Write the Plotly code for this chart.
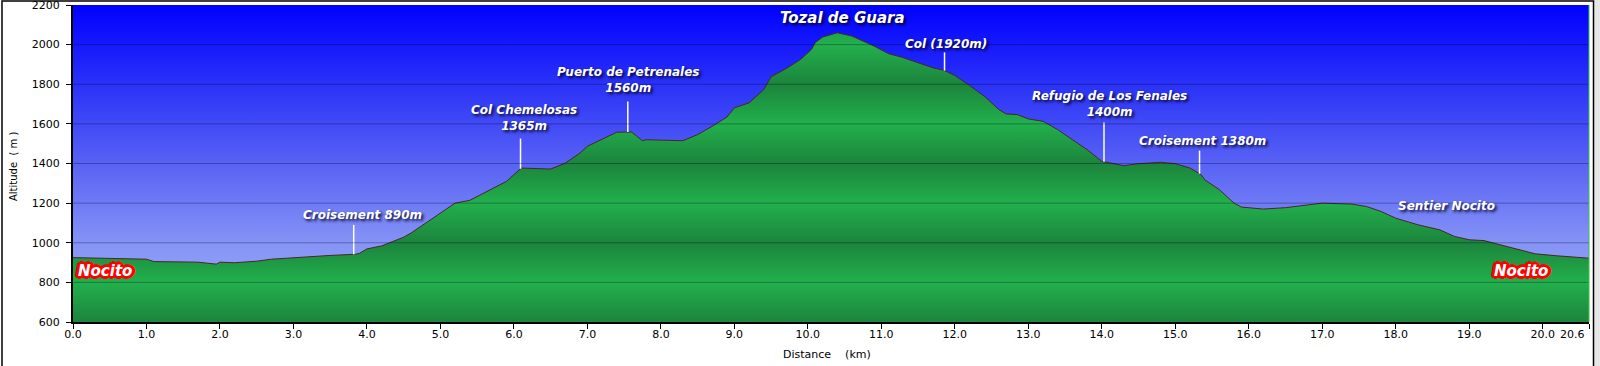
import numpy as np
import plotly.graph_objects as go

# ---------------- data ----------------
dist_km = [0.0, 0.5, 0.8, 1.0, 1.1, 1.5, 1.7, 1.95, 2.0, 2.2, 2.5, 2.7, 3.0, 3.3, 3.5,
           3.85, 3.9, 4.0, 4.2, 4.35, 4.5, 4.6, 4.8, 5.0, 5.2, 5.4, 5.5, 5.7, 5.9, 6.1,
           6.2, 6.5, 6.7, 6.9, 7.0, 7.2, 7.4, 7.6, 7.75, 7.8, 8.0, 8.3, 8.5, 8.7, 8.9,
           9.0, 9.2, 9.4, 9.5, 9.7, 9.9, 10.05, 10.1, 10.2, 10.4, 10.6, 10.9, 11.1, 11.3,
           11.5, 11.7, 11.85, 12.0, 12.2, 12.4, 12.6, 12.7, 12.85, 13.0, 13.2, 13.4, 13.6,
           13.8, 14.0, 14.3, 14.5, 14.8, 15.0, 15.2, 15.35, 15.4, 15.6, 15.8, 15.9, 16.2,
           16.5, 16.8, 17.0, 17.4, 17.6, 17.8, 18.0, 18.3, 18.6, 18.8, 19.0, 19.2, 19.5,
           19.7, 19.9, 20.2, 20.4, 20.63]
altitude_m = [925, 922, 920, 917, 905, 905, 902, 892, 902, 899, 907, 917, 925, 934, 936,
              942, 947, 969, 984, 1006, 1028, 1049, 1099, 1150, 1200, 1214, 1234, 1273, 1310, 1377,
              1375, 1372, 1402, 1453, 1487, 1524, 1558, 1559, 1515, 1520, 1519, 1515, 1546, 1588, 1635,
              1681, 1706, 1773, 1838, 1878, 1925, 1976, 2010, 2038, 2060, 2043, 1993, 1954, 1934,
              1909, 1883, 1871, 1844, 1794, 1740, 1672, 1650, 1647, 1625, 1613, 1571, 1520,
              1470, 1411, 1389, 1399, 1406, 1399, 1377, 1344, 1318, 1268, 1200, 1180, 1170,
              1177, 1190, 1200, 1195, 1183, 1158, 1124, 1091, 1065, 1032, 1015, 1011, 981,
              961, 944, 934, 930, 922]

# waypoint labels (text, label position, pointer line)
label_text = ["Croisement 890m", "Col Chemelosas<br>1365m", "Puerto de Petrenales<br>1560m",
              "Col (1920m)", "Refugio de Los Fenales<br>1400m", "Croisement 1380m",
              "Sentier Nocito"]
label_x = [3.94, 6.14, 7.55, 11.88, 14.10, 15.37, 18.69]
label_y = [1141, 1632, 1819, 2001, 1700, 1516, 1187]
pointer_x = [3.82, 6.09, 7.55, 11.86, 14.03, 15.33]
pointer_top = [1090, 1526, 1713, 1961, 1607, 1465]

summit_text = "Tozal de Guara"
summit_x, summit_y = 10.47, 2133

town_text = ["Nocito", "Nocito"]
town_x = [0.44, 19.70]
town_y = [858, 858]

y_ticks = [600, 800, 1000, 1200, 1400, 1600, 1800, 2000, 2200]
x_ticks = [float(i) for i in range(21)] + [20.63]
x_ticklabels = [f"{i:.1f}" for i in range(21)] + [""]
x_end_label = "20.6"

x_title = "Distance\u00a0\u00a0\u00a0\u00a0(km)"
y_title = "Altitude\u00a0\u00a0(\u00a0m\u00a0)"

# ---------------- figure ----------------
W, H = 1600, 366
L, R, T, B = 73, 11, 5, 44
PW, PH = W - L - R, H - T - B
def px(p):
    return (p - L) / PW
def py(p):
    return (H - B - p) / PH

ymin, ymax = y_ticks[0], y_ticks[-1]
xmax = x_ticks[-1]

fig = go.Figure()

# sky gradient
fig.add_trace(go.Scatter(
    x=[0, xmax, xmax, 0, 0], y=[ymin, ymin, ymax, ymax, ymin],
    mode="lines", line=dict(width=0), fill="toself",
    fillgradient=dict(type="vertical", start=ymin, stop=ymax,
                      colorscale=[[0.0, "#a0b0f8"], [0.25, "#8593f6"], [0.5, "#5862f4"],
                                  [0.75, "#2a32f8"], [1.0, "#0000ff"]]),
    hoverinfo="skip", showlegend=False))

# terrain
dark, bright = "#1c843c", "#22b04c"
fig.add_trace(go.Scatter(
    x=dist_km, y=altitude_m, mode="lines",
    line=dict(color="#4a2626", width=1), fill="tozeroy",
    fillgradient=dict(type="vertical", start=ymin, stop=ymax,
                      colorscale=[[0.0, dark], [0.125, bright], [0.25, dark], [0.375, bright],
                                  [0.5, dark], [0.625, bright], [0.75, dark], [0.875, bright],
                                  [1.0, dark]]),
    hoverinfo="skip", showlegend=False))

# pointer lines
for xv, top in zip(pointer_x, pointer_top):
    bottom = float(np.interp(xv, dist_km, altitude_m))
    fig.add_trace(go.Scatter(x=[xv, xv], y=[top, bottom], mode="lines",
                             line=dict(color="white", width=1.5),
                             hoverinfo="skip", showlegend=False))

shapes = []
# grid lines drawn above the fills
for yv in y_ticks[1:-1]:
    shapes.append(dict(type="line", xref="paper", x0=0, x1=1, yref="y", y0=yv, y1=yv,
                       line=dict(color="rgba(0,0,40,0.32)", width=1), layer="above"))
# right edge of plot
shapes.append(dict(type="line", xref="paper", x0=1, x1=1, yref="paper", y0=0, y1=1,
                   line=dict(color="#3cc050", width=1), layer="above"))
# outer frame
shapes.append(dict(type="rect", xref="paper", yref="paper",
                   x0=px(1594), x1=px(1601), y0=py(367), y1=py(-1),
                   fillcolor="#e6e6e6", line=dict(width=0), layer="below"))
shapes.append(dict(type="rect", xref="paper", yref="paper",
                   x0=px(2), x1=px(1593.5), y0=py(370), y1=py(1),
                   line=dict(color="black", width=1.5), layer="above"))

label_font = dict(family="DejaVu Sans", size=12, color="white", weight="bold",
                  style="italic", shadow="2px 2px 3px rgba(0,0,40,0.95)")
annotations = []
for t, xv, yv in zip(label_text, label_x, label_y):
    annotations.append(dict(x=xv, y=yv, xref="x", yref="y", text=t, showarrow=False,
                            xanchor="center", yanchor="middle",
                            font=label_font, align="center"))
annotations.append(dict(x=summit_x, y=summit_y, xref="x", yref="y", text=summit_text,
                        showarrow=False, xanchor="center", yanchor="middle",
                        font=dict(label_font, size=15)))
red_outline = ", ".join(f"{dx}px {dy}px 0 #ff0000" for dx, dy in
                        [(2, 0), (-2, 0), (0, 2), (0, -2), (2, 2), (-2, -2), (2, -2), (-2, 2),
                         (3, 0), (-3, 0), (0, 3), (0, -3), (3, 1), (-3, 1), (3, -1), (-3, -1)]) \
    + ", 0 0 4px #ff0000"
for t, xv, yv in zip(town_text, town_x, town_y):
    annotations.append(dict(x=xv, y=yv, xref="x", yref="y", text=t, showarrow=False,
                            xanchor="center", yanchor="middle",
                            font=dict(family="DejaVu Sans", size=15, color="white",
                                      weight="bold", style="italic", shadow=red_outline)))
# end-of-axis distance label (right-aligned to the last tick)
annotations.append(dict(x=xmax, y=py(334), xref="x", yref="paper", text=x_end_label,
                        xanchor="right", yanchor="middle", xshift=-2, showarrow=False,
                        font=dict(family="DejaVu Sans", size=11, color="black")))
# axis titles
annotations.append(dict(x=px(827), y=py(354), xref="paper", yref="paper", text=x_title,
                        xanchor="center", yanchor="middle",
                        showarrow=False, font=dict(family="DejaVu Sans", size=11, color="black")))
annotations.append(dict(x=px(14), y=py(167), xref="paper", yref="paper", text=y_title,
                        xanchor="center", yanchor="middle",
                        textangle=-90, showarrow=False,
                        font=dict(family="DejaVu Sans", size=10, color="black")))

fig.update_layout(
    width=W, height=H, margin=dict(l=L, r=R, t=T, b=B, pad=0, autoexpand=False),
    paper_bgcolor="white", plot_bgcolor="white",
    shapes=shapes, annotations=annotations, showlegend=False,
    xaxis=dict(range=[0, xmax], tickvals=x_ticks, ticktext=x_ticklabels,
               showgrid=False, zeroline=False, showline=True, linecolor="black", linewidth=2,
               ticks="outside", ticklen=5, tickcolor="black", tickwidth=1,
               ticklabeloverflow="allow", ticklabelstandoff=-4,
               tickfont=dict(family="DejaVu Sans", size=11, color="black")),
    yaxis=dict(range=[ymin, ymax], tickvals=y_ticks,
               showgrid=False, zeroline=False, showline=True, linecolor="black", linewidth=2,
               ticks="outside", ticklen=5, tickcolor="black", tickwidth=1,
               ticklabeloverflow="allow", ticklabelstandoff=4,
               tickfont=dict(family="DejaVu Sans", size=11, color="black")),
)

fig.write_html(
    "out.html",
    config={"displayModeBar": False},
    post_script="document.body.style.margin='0';document.body.style.overflow='hidden';",
)
